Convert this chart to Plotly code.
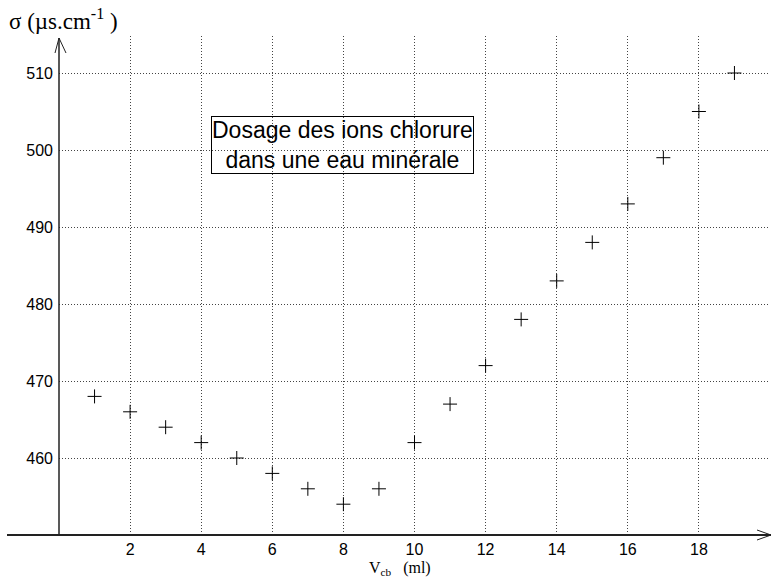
import plotly.graph_objects as go

volumes = [1, 2, 3, 4, 5, 6, 7, 8, 9, 10, 11, 12, 13, 14, 15, 16, 17, 18, 19]
sigma = [468, 466, 464, 462, 460, 458, 456, 454, 456, 462, 467, 472, 478, 483, 488, 493, 499, 505, 510]
x_ticks = [2, 4, 6, 8, 10, 12, 14, 16, 18]
y_ticks = [460, 470, 480, 490, 500, 510]

W, H = 772, 580
L, R, T, B = 59, 770, 36, 535
pw, ph = R - L, B - T

def px(xp):
    return (xp - L) / pw

def py(yp):
    return (B - yp) / ph

fig = go.Figure()
fig.add_trace(go.Scatter(
    x=volumes, y=sigma, mode="markers",
    marker=dict(symbol="cross-thin", size=10, color="black",
                line=dict(width=1, color="black")),
    showlegend=False, hoverinfo="x+y",
))

shapes = [
    dict(type="line", xref="paper", yref="paper", x0=px(7), x1=px(771), y0=0, y1=0,
         line=dict(color="#222", width=2)),
    dict(type="path", xref="paper", yref="paper",
         path=f"M {px(757)} {py(530)} L {px(771)} {py(535)} L {px(757)} {py(540)}",
         line=dict(color="#222", width=1)),
    dict(type="line", xref="paper", yref="paper", x0=0, x1=0, y0=0, y1=py(38),
         line=dict(color="#222", width=1.5)),
    dict(type="path", xref="paper", yref="paper",
         path=f"M {px(55)} {py(53)} L {px(59)} {py(38)} L {px(66)} {py(53)}",
         line=dict(color="#222", width=1)),
]

annotations = [
    dict(text="Dosage des ions chlorure<br>dans une eau minérale", xref="paper", yref="paper",
         x=px(342), y=py(145), xanchor="center", yanchor="middle", showarrow=False,
         font=dict(family="Liberation Sans, Arial", size=23, color="black"),
         bordercolor="black", borderwidth=1, borderpad=0, bgcolor="rgba(0,0,0,0)", align="center"),
    dict(text="σ (µs.cm<sup>-1</sup> )", xref="paper", yref="paper", x=px(7), y=py(19),
         xanchor="left", yanchor="middle", showarrow=False,
         font=dict(family="Liberation Serif, Times New Roman", size=23, color="black")),
    dict(text="V<sub>cb</sub>   (ml)", xref="paper", yref="paper", x=px(367), y=py(580),
         xanchor="left", yanchor="bottom", showarrow=False,
         font=dict(family="Liberation Serif, Times New Roman", size=16, color="black")),
]

grid = dict(showgrid=True, gridcolor="#444", griddash="1px,2px", gridwidth=1,
            zeroline=False, showline=False, ticks="",
            tickfont=dict(family="Liberation Sans, Arial", size=16, color="black"))

fig.update_layout(
    width=W, height=H,
    margin=dict(l=L, r=W - R, t=T, b=H - B, pad=0),
    paper_bgcolor="white", plot_bgcolor="white",
    shapes=shapes, annotations=annotations,
    xaxis=dict(range=[0, pw / 35.55], tickvals=x_ticks, ticktext=[str(v) for v in x_ticks],
               ticklabelstandoff=3, **grid),
    yaxis=dict(range=[450, 450 + ph / 7.7], tickvals=y_ticks, ticktext=[str(v) for v in y_ticks],
               ticklabelstandoff=5, **grid),
)

fig.write_html("out.html")
